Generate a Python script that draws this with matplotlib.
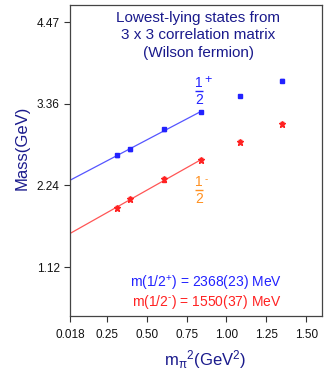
import numpy as np
import matplotlib.pyplot as plt

plt.rcParams['font.family'] = ['Liberation Sans', 'DejaVu Sans']
plt.rcParams['mathtext.fontset'] = 'custom'
plt.rcParams['mathtext.rm'] = 'Liberation Sans'
plt.rcParams['mathtext.it'] = 'Liberation Sans'

# pion mass squared (GeV^2)
mpi2 = [0.314, 0.396, 0.610, 0.841, 1.088, 1.351]

# positive parity 1/2+ (GeV)
m_plus = [2.649, 2.731, 3.006, 3.244, 3.463, 3.675]
err_plus = [0.020, 0.015, 0.018, 0.015, 0.018, 0.020]

# negative parity 1/2- (GeV)
m_minus = [1.930, 2.054, 2.319, 2.584, 2.831, 3.075]
err_minus = [0.030, 0.028, 0.030, 0.025, 0.025, 0.025]

x_ticks = [0.018, 0.25, 0.50, 0.75, 1.00, 1.25, 1.50]
x_ticklabels = ["0.018", "0.25", "0.50", "0.75", "1.00", "1.25", "1.50"]
y_ticks = [1.12, 2.24, 3.36, 4.47]

navy = "#1a1a8c"
blue = "#2222ff"
red = "#ff2222"
orange = "#ff9020"

fig = plt.figure(figsize=(3.27, 3.82), dpi=100)
ax = fig.add_axes([0.214, 0.173, 0.771, 0.814])

# linear fits to the four lightest points, extrapolated to the chiral limit
x_fit = np.array([0.018, mpi2[3]])
for vals, col in [(m_plus, "#5555ff"), (m_minus, "#ff5555")]:
    k, b = np.polyfit(mpi2[:4], vals[:4], 1)
    ax.plot(x_fit, k * x_fit + b, color=col, lw=0.9, zorder=1)

ax.errorbar(mpi2, m_plus, yerr=err_plus, fmt="s", ms=3, color=blue,
            elinewidth=0.8, capsize=1.5, zorder=3)
ax.errorbar(mpi2, m_minus, yerr=err_minus, fmt="*", ms=5, color=red,
            elinewidth=0.8, capsize=1.5, zorder=3)

ax.set_xlim(0.018, 1.60)
ax.set_ylim(0.45, 4.71)
ax.set_xticks(x_ticks)
ax.set_xticklabels(x_ticklabels)
ax.set_yticks(y_ticks)
ax.set_yticklabels(["1.12", "2.24", "3.36", "4.47"])
ax.tick_params(direction="out", length=4, width=0.8, labelsize=8.5,
               colors="#333333", labelcolor="#111111", pad=3.5)
ax.tick_params(axis="x", pad=5.5)
for s in ax.spines.values():
    s.set_color("#444444")
    s.set_linewidth(0.9)

ax.set_ylabel("Mass(GeV)", color=navy, fontsize=12)
ax.yaxis.set_label_coords(-0.16, 0.54)
ax.set_xlabel(r"m$_{\pi}$$^{2}$(GeV$^{2}$)", color=navy, fontsize=12)
ax.xaxis.set_label_coords(0.535, -0.105)

ax.text(0.508, 0.902, "Lowest-lying states from\n3 x 3 correlation matrix\n(Wilson fermion)",
        transform=ax.transAxes, ha="center", va="center", color=navy,
        fontsize=11, linespacing=1.3)

# hand-set fractions 1/2+ and 1/2-
for yc, sign, col in [(0.724, "+", blue), (0.405, "-", orange)]:
    ax.text(0.511, yc + 0.004, "1", transform=ax.transAxes, ha="center",
            va="bottom", color=col, fontsize=10)
    ax.text(0.511, yc - 0.006, "2", transform=ax.transAxes, ha="center",
            va="top", color=col, fontsize=10)
    ax.plot([0.494, 0.528], [yc, yc], transform=ax.transAxes, color=col,
            lw=1.0, solid_capstyle="butt")
    ax.text(0.532, yc + 0.036, sign, transform=ax.transAxes, ha="left",
            va="center", color=col, fontsize=7 if sign == "-" else 9)

ax.text(0.84, 0.103, r"m(1/2$^{+}$) = 2368(23) MeV", transform=ax.transAxes,
        ha="right", va="center", color=blue, fontsize=10)
ax.text(0.84, 0.046, r"m(1/2$^{\text{-}}$) = 1550(37) MeV", transform=ax.transAxes,
        ha="right", va="center", color=red, fontsize=10)

fig.savefig("out.png", dpi=100)
